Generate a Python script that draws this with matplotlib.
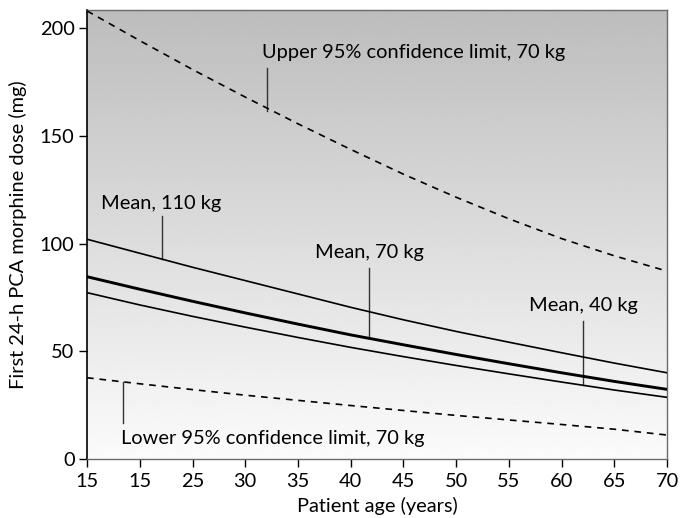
import numpy as np
import matplotlib
matplotlib.use("Agg")
import matplotlib.pyplot as plt

plt.rcParams["font.family"] = ["Lato", "DejaVu Sans"]

# values (age in years, dose in mg)
ages = [15, 20, 25, 30, 35, 40, 45, 50, 55, 60, 65, 70]
upper_70 = [208, 194.2, 180.8, 168, 155.6, 143.7, 132.2, 121.5, 111.5, 102.3, 94.3, 87.2]
mean_110 = [102, 95.5, 89, 82.8, 76.6, 70.4, 64.6, 59.2, 54.2, 49.3, 44.5, 40]
mean_70 = [84.6, 78.8, 73.2, 67.8, 62.6, 57.6, 53, 48.5, 44.2, 40, 36, 32.3]
mean_40 = [77.2, 71.5, 66.2, 61.2, 56.4, 51.8, 47.5, 43.4, 39.5, 35.7, 32, 28.6]
lower_70 = [37.7, 34.9, 32.2, 29.6, 27.2, 24.8, 22.5, 20.2, 18.1, 16, 13.8, 11.1]

xticks = [15, 20, 25, 30, 35, 40, 45, 50, 55, 60, 65, 70]
xticklabels = ["15", "15", "25", "30", "35", "40", "45", "50", "55", "60", "65", "70"]
yticks = [0, 50, 100, 150, 200]

# label text, text anchor (age, dose), leader line (age, dose_top, dose_bottom)
labels = [
    ("Upper 95% confidence limit, 70 kg", (31.6, 188.5), (32.1, 181.5, 161.5)),
    ("Mean, 110 kg", (16.3, 118.6), (22.1, 112.8, 92.8)),
    ("Mean, 70 kg", (36.6, 95.7), (41.7, 88.5, 56.2)),
    ("Mean, 40 kg", (56.9, 71.1), (62.0, 64.0, 34.2)),
    ("Lower 95% confidence limit, 70 kg", (18.2, 9.6), (18.45, 35.6, 16.8)),
]

xlo, xhi, ylo, yhi = 15, 70, 0, 208.5
fs = 14.4

fig = plt.figure(figsize=(6.8, 5.18), dpi=100)
ax = fig.add_axes([0.128, 0.114, 0.853, 0.867])

# grey (top) to white (bottom) gradient background
grad = np.linspace(0.74, 0.985, 256).reshape(-1, 1)
ax.imshow(grad, cmap="gray", vmin=0, vmax=1, aspect="auto",
          extent=[xlo, xhi, ylo, yhi], origin="upper", zorder=0)

ax.plot(ages, upper_70, color="black", lw=1.2, ls=(0, (4, 3.5)), zorder=3)
ax.plot(ages, lower_70, color="black", lw=1.2, ls=(0, (4, 3.5)), zorder=3)
ax.plot(ages, mean_110, color="black", lw=1.2, zorder=3)
ax.plot(ages, mean_70, color="black", lw=2.1, zorder=3)
ax.plot(ages, mean_40, color="black", lw=1.2, zorder=3)

for txt, (tx, ty), (lx, l0, l1) in labels:
    ax.text(tx, ty, txt, fontsize=fs, ha="left", va="center", zorder=4)
    ax.plot([lx, lx], [l0, l1], color="#333333", lw=1.0, zorder=2)

ax.set_xlim(xlo, xhi)
ax.set_ylim(ylo, yhi)
ax.set_xticks(xticks)
ax.set_xticklabels(xticklabels)
ax.set_yticks(yticks)
ax.tick_params(axis="both", direction="out", length=6, width=1, labelsize=fs,
               color="black")
ax.tick_params(axis="x", pad=4)
ax.tick_params(axis="y", pad=3)
for s in ("top", "right", "bottom"):
    ax.spines[s].set_color("#6a6a6a")
    ax.spines[s].set_linewidth(1.0)
ax.spines["left"].set_color("black")
ax.spines["left"].set_linewidth(1.2)

ax.set_xlabel("Patient age (years)", fontsize=fs, labelpad=5)
ax.set_ylabel("First 24-h PCA morphine dose (mg)", fontsize=fs, labelpad=9)

fig.savefig("out.png")
